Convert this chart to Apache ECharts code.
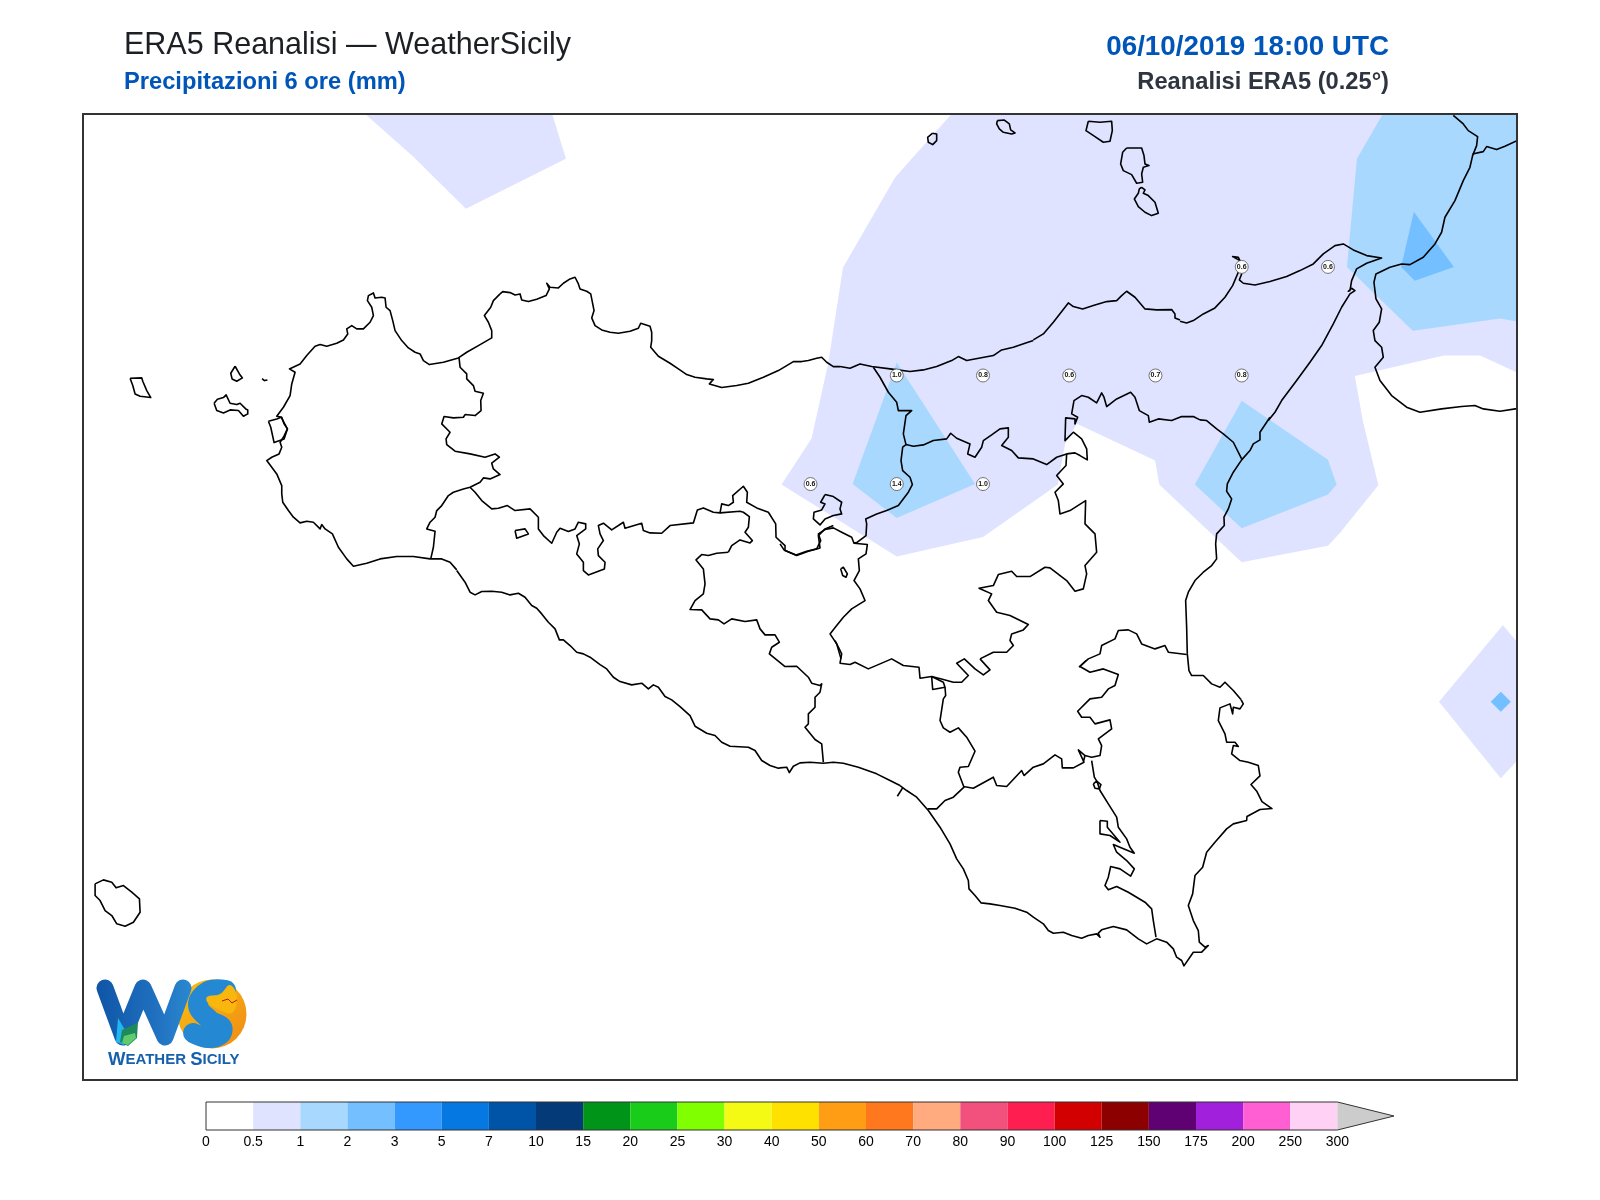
<!DOCTYPE html>
<html><head><meta charset="utf-8">
<style>html,body{margin:0;padding:0;background:#fff}#c{width:1600px;height:1200px}</style>
<script src="https://cdn.jsdelivr.net/npm/echarts@6/dist/echarts.min.js"></script>
</head><body><div id="c"></div>
<script>
// ---- map extent (degrees) ----
const lonMin = 11.891, lonMax = 16.048, latMin = 36.378, latMax = 38.602;
// digitising helper: outlines were digitised on 3x tiles; tile origin -> degrees
function tile(x0, y0, f) {
  const out = [];
  for (let i = 0; i < f.length; i += 2) {
    const x = x0 + f[i] / 3, y = y0 + f[i + 1] / 3;
    out.push([15.5 + (x - 1328) / 345, 38.25 - (y - 266.3) / 434.4]);
  }
  return out;
}
// ---- colour scale ----
const tickLabels = ['0','0.5','1','2','3','5','7','10','15','20','25','30','40','50','60','70','80','90','100','125','150','175','200','250','300'];
const bandColors = ['#FFFFFF','#DFE3FF','#A9D8FF','#73BFFF','#3399FF','#0578E1','#0054A8','#043A78','#009419','#1ACC1A','#7FFF00','#F5FA14','#FFE100','#FF9E14','#FF781E','#FFAA7F','#F2507D','#FF1E50','#D20000','#8C0000','#5F0073','#A020DC','#FF5FD2','#FFD2F5'];
// ---- precipitation grid values: [lon, lat, mm] ----
const gridValues = [[14.25,38,1.0],[14.5,38,0.8],[14.75,38,0.6],[15,38,0.7],[15.25,38,0.8],[15.25,38.25,0.6],[15.5,38.25,0.6],[14,37.75,0.6],[14.25,37.75,1.4],[14.5,37.75,1.0]];
// ---- filled contours: band index + ring in degrees ----
const contourNorth = [[14.409,38.602],[16.048,38.602],[16.048,38.007],[15.941,38.046],[15.836,38.046],[15.578,37.999],[15.601,37.896],[15.646,37.747],[15.535,37.638],[15.5,37.608],[15.25,37.57],[15.011,37.749],[14.999,37.804],[14.772,37.889],[14.738,37.843],[14.717,37.749],[14.5,37.628],[14.25,37.583],[13.916,37.749],[14.003,37.855],[14.051,38.027],[14.094,38.248],[14.245,38.456]];
const contourNW = [[12.709,38.602],[12.848,38.504],[13.001,38.384],[13.291,38.499],[13.251,38.602]];
const contourSE = [[16.007,37.425],[15.822,37.249],[16.001,37.073],[16.048,37.113],[16.048,37.387]];
const contourDiamond = [[16.001,37.272],[16.03,37.249],[16.001,37.226],[15.972,37.249]];
const contourNE = [[15.659,38.602],[16.048,38.602],[16.048,38.124],[15.999,38.131],[15.746,38.103],[15.555,38.25],[15.584,38.499]];
const contourNEcore = [[15.749,38.377],[15.865,38.25],[15.752,38.218],[15.712,38.25]];
const contourCentre = [[14.25,38.03],[14.477,37.75],[14.25,37.672],[14.122,37.75]];
const contourEast = [[15.25,37.942],[15.5,37.806],[15.525,37.749],[15.5,37.726],[15.25,37.648],[15.114,37.749]];
const contours = [[1,contourNorth],[1,contourNW],[1,contourSE],[3,contourDiamond],[2,contourNE],[3,contourNEcore],[2,contourCentre],[2,contourEast]];
// ---- coast ----
const coastWest = tile(80,250,[1130,958,1110,935,1085,925,1050,925,1000,918,950,918,900,925,860,938,820,947,800,925,775,890,757,850,735,835,725,822,720,835,700,815,680,812,660,817,640,800,625,780,608,755,605,730,605,705,590,670,575,650,560,630,575,620,597,610,605,590,600,575,610,560,622,535,612,520,605,500,590,497,610,470,630,435,635,400,645,365,628,355,660,340,680,315,705,287,720,282,740,287,770,278,790,268,803,250,800,235,815,225,830,235,850,235,870,215,880,195,875,170,862,150,865,135,880,127,885,142,905,140,915,142,918,170,930,180,938,210,945,240,965,270,985,292,1005,305,1020,310,1030,330,1048,342,1090,335,1135,322,1160,305,1195,285,1235,262,1235,240,1225,215,1213,195,1232,170,1240,150,1260,130]);
const coastNorthA = tile(420,260,[240,100,248,93,270,96,285,103,300,100,305,118,325,123,350,116,378,105,388,85,380,68,390,80,415,82,430,68,450,55,465,50,475,70,480,85,500,92,512,100,518,130,522,150,515,172,525,195,545,208,570,215,595,218,630,212,655,203,662,188,690,197,695,215,695,240,692,260,715,287,750,308,775,325,800,342,825,350,860,355,880,357,868,370,905,381,950,375,985,368,1030,350,1075,330,1120,303,1145,303,1165,300,1190,293,1205,290,1220,305,1240,318,1260,318]);
const coastNorthB = tile(780,340,[180,78,210,83,240,70,275,78,330,85,390,93,430,88,470,78,515,60,535,48,560,60,600,52,640,45,665,28,700,20,735,8,760,0]);
const coastNorthC = tile(880,100,[460,718,490,700,520,665,565,607,580,618,608,625,640,615,680,603,710,600,725,585,740,572,765,590,795,625,830,628,875,627,885,640,885,652,900,658]);
const coastNE = tile(1100,100,[240,662,260,667,280,660,310,640,345,622,375,590,398,555,415,515,420,480,415,470,398,468,420,480,425,520,418,538,430,548,465,553,510,543,560,528,600,510,640,490,670,460,705,435,730,430,760,448,800,465,845,472,800,488,770,505,755,540,750,570,745,572,755,563,765,570,750,580,725,620,700,670,665,735,630,785,590,840,545,900,525,935,505,960]);
const coastEast = tile(1040,400,[690,50,680,65,660,95,660,118,640,130,630,150,605,178,580,215,562,250,560,272,575,295,565,325,552,350,553,375,530,400,527,430,530,475,515,495,490,515,465,540,445,575,437,600,440,680,442,760,447,810,455,825,490,825,515,850,540,860,555,845,580,870,603,897]);
const coastSE = tile(900,660,[1023,117,1030,130,1020,145,1000,140,998,160,990,130,960,142,955,180,975,220,980,245,1005,245,1015,258,1000,255,995,280,1020,300,1045,305,1075,315,1080,346,1053,372,1071,393,1086,423,1116,444,1080,447,1041,468,1040,480,1000,490,980,505,945,545,920,575,908,620,885,645,878,700,865,735,880,780,895,810,898,845,915,860,925,855,905,875,880,875,852,916,845,900,830,890,820,865,800,845,770,835,740,850,715,835,680,808,640,798,605,808,595,818,600,830,590,820,565,825,545,833,515,825,490,815,460,818,445,810,430,790,400,770,380,755,345,743,300,735,270,730,243,727,225,705,207,685,205,660,190,625,170,595,150,550,120,500,85,450,50,410,20,390,0,375]);
const coastSouthA = tile(780,640,[360,435,330,420,290,400,235,380,190,368,160,365,130,368,90,365,60,367,40,377,28,396,20,380,0,382]);
const coastSouthB = tile(420,540,[1080,682,1075,683,1050,675,1025,660,1005,630,985,620,930,617,905,605,885,585,860,578,825,557,810,525,780,498,755,478,735,468,715,440,700,433,685,445,665,428,635,433,600,423,580,410,560,385,540,372,510,350,490,340,470,335,450,315,430,298,418,298,405,265,385,245,365,220,350,203,335,195,315,170,295,158,270,163,245,155,215,152,185,153,165,163,150,155,135,125,110,90]);
const coastTick = tile(780,640,[368,442,352,467]);
// ---- Calabria ----
const calabriaMain = tile(1100,100,[1060,44,1090,70,1105,90,1133,108,1130,135,1118,165,1110,200,1090,240,1065,300,1035,350,1025,395,1005,430,970,470,930,492,905,490,870,500,828,520,822,545,828,595,845,625,838,665,820,690,825,720,845,740,850,770,825,800,840,840,875,885,920,920,960,935,1025,925,1085,918,1125,915,1150,925,1200,932,1251,924]);
const calabriaUpper = tile(1100,100,[1118,160,1150,153,1160,138,1190,147,1215,137,1251,120]);
// ---- islands ----
const marettimo = tile(80,250,[150,383,185,382,188,392,200,420,212,441,180,437,165,430,158,405,150,383]);
const levanzo = tile(80,250,[465,347,478,370,487,382,470,392,456,385,452,368,465,347]);
const favignana = tile(80,250,[402,458,412,446,430,441,438,433,450,458,470,462,480,458,497,475,503,478,503,490,490,497,475,480,450,478,430,487,410,480,402,458]);
const formica = tile(80,250,[546,384,553,390,562,388]);
const stagnone = tile(80,250,[565,512,590,505,603,500,622,535,612,565,582,576,572,530,565,512]);
const pantelleria = tile(80,850,[45,100,70,88,95,95,108,112,130,105,155,125,178,145,180,185,160,215,135,227,110,220,95,195,75,180,60,150,45,135,45,100]);
const alicudi = tile(880,100,[157,98,170,100,170,120,158,132,145,125,143,110,157,98]);
const filicudi = tile(880,100,[352,60,372,58,388,70,392,88,405,97,395,100,370,95,358,85,350,70,352,60]);
const salina = tile(880,100,[625,62,660,65,695,62,697,90,690,122,670,125,645,108,618,90,625,62]);
const lipari = tile(880,100,[740,142,785,142,792,165,795,190,807,195,790,200,785,220,788,245,770,248,755,222,730,210,722,190,728,155,740,142]);
const vulcano = tile(880,100,[785,260,795,268,790,278,805,285,825,305,835,338,815,345,795,335,775,318,763,295,775,278,778,265,785,260]);
// ---- province borders and lakes ----
const provA = tile(420,260,[117,292,120,320,140,340,140,355,160,375,165,392,190,398,182,420,183,450,165,465,135,462,130,470,100,472,72,468,65,490,90,515,78,535,80,552,105,572,150,580,195,590,225,580,238,590,215,608,220,625,240,642,210,655,190,652,180,665,150,680,130,685,100,695,85,705,65,735,50,750,45,770,30,785,20,805,45,812,40,860,32,895]);
const provB = tile(420,260,[150,680,165,695,185,720,215,745,235,743,262,735,285,750,330,745,355,770,355,805,370,825,395,848,410,815,420,803,445,813,465,805,475,785,497,790,497,805,470,825,478,850,470,880,490,905,490,930,505,943,553,925,555,905,535,885,533,865,550,840,540,820,535,795,550,788,575,808,610,785,615,803,665,788,670,810,690,817,725,818,750,795,820,787,832,748,850,742,880,755,900,757,905,730,925,735,940,725,938,705,970,677,982,695,980,725,1010,742,1045,755,1067,790,1068,830,1095,855,1095,870,1130,885,1165,872,1200,862,1195,825,1215,805,1240,795]);
const provBbranch = tile(420,260,[900,757,960,752,970,755,988,768,985,800,975,815,997,840,990,847,960,838,935,855,925,875]);
const provC = tile(420,540,[925,35,890,38,865,45,845,42,828,58,850,85,855,130,850,160,825,180,810,207,845,208,870,235,895,238,912,250,935,235,975,243,1010,238,1020,265,1035,283,1065,283,1078,305,1055,320,1048,340,1095,378,1130,377,1165,410,1175,428,1200,435,1205,430,1200,455,1185,470,1185,500,1165,520,1165,550,1155,560,1185,597,1205,610,1210,665]);
const provD = tile(780,340,[0,610,12,628,48,643,80,632,110,625,122,600,115,580,135,567,160,562,185,575,215,590,222,608,232,605,258,585,260,550,257,535,290,520,320,510,355,495,385,455,397,432,390,410,368,390,363,360,368,320,378,312,370,280,378,225,395,210,355,210,350,185,325,155,300,110,280,80]);
const provE = tile(780,340,[378,312,400,317,430,313,460,300,500,295,512,278,530,293,570,310,563,340,585,350,605,320,610,300,635,283,660,265,685,262,685,290,665,315,695,330,715,352,760,355,800,372,830,350,860,340,885,337,900,345,922,358,920,325,905,295,880,275,855,300,857,232,885,235,885,250,893,230,875,220,882,180,905,165,925,170,950,187,965,157,972,170,980,198,1010,175,1052,155,1065,170,1078,210,1105,225,1108,245,1135,235,1175,240,1205,228,1240,228,1260,238]);
const provEend = tile(1040,400,[480,58,500,60,530,85,550,100,580,125,605,175]);
const provF = tile(780,340,[860,340,858,375,830,405,850,430,825,455,835,480,840,520,870,510,917,480,915,550,945,580,950,635,915,675,920,700,910,745,885,752,860,720,810,682,795,680,750,708,710,708,695,692,655,702,640,735,597,743,635,760,625,780,650,815,690,825,745,852,730,868,695,880,690,900,700,915,680,935,640,935,600,955]);
const provG = tile(780,640,[600,55,630,88,610,103,585,85,553,55,530,68,565,105,545,125,520,125,490,117,455,108,420,113,417,80,370,75,335,55,300,70,265,85,225,65,210,72,180,68,185,40,175,20,165,0]);
const provH = tile(780,340,[222,608,262,612,258,640,235,655,238,690,222,720,240,745,255,780,215,805,190,830,170,855,150,880,170,910,183,955]);
const provI = tile(780,640,[455,108,458,147,495,140,490,125,455,108]);
const provJ = tile(780,640,[495,140,497,165,490,175,480,240,490,262,510,275,535,262,560,290,585,332,565,378,540,380,535,395,552,440,520,470,495,480,470,505,443,505]);
const provK = tile(900,660,[190,378,220,383,280,350,290,375,320,378,365,330,372,345,400,320,430,310,465,283,485,295,487,322,520,322,552,305,535,268,555,285,550,305]);
const provL = tile(900,660,[555,285,575,290,600,285,605,255,595,235,635,205,630,178,585,190,570,170,545,170,533,152,570,115,605,110,625,85,645,75,655,42,610,25,570,35,540,18,558,0]);
const provM = tile(1040,400,[117,800,145,775,180,760,185,735,225,715,235,690,265,688,290,700,305,730,345,745,375,735,385,755,440,762]);
const provN = tile(900,660,[575,300,583,350,592,365,600,390,625,430,650,470,655,500,680,535,690,560,703,578,640,552,650,575,680,600,703,625,692,647,660,625,632,618,625,650,615,675,625,688,650,678,685,695,710,710,735,725,755,745,760,780,768,830]);
const ringSmall = tile(900,660,[580,370,590,362,603,372,598,385,585,383,580,370]);
const lagoon = tile(900,660,[600,480,622,482,622,500,660,545,630,525,600,520,600,480]);
const lakeLeft = tile(420,260,[285,810,315,805,325,820,290,833,285,810]);
const lakePozzillo = tile(780,340,[135,462,160,468,185,485,180,505,185,520,160,525,135,535,120,553,100,535,102,515,125,508,135,490,122,485,135,462]);
const lakeOval = tile(780,340,[182,685,190,680,202,700,198,710,188,705,182,685]);
const outlines = [coastWest,coastNorthA,coastNorthB,coastNorthC,coastNE,coastEast,coastSE,coastSouthA,coastSouthB,coastTick,calabriaMain,calabriaUpper,marettimo,levanzo,favignana,formica,stagnone,pantelleria,alicudi,filicudi,salina,lipari,vulcano,provA,provB,provBbranch,provC,provD,provE,provEend,provF,provG,provH,provI,provJ,provK,provL,provM,provN,ringSmall,lagoon,lakeLeft,lakePozzillo,lakeOval];

const font = '"Liberation Sans", Arial, sans-serif';
const option = {
  animation: false,
  backgroundColor: '#fff',
  title: [
    {text: 'ERA5 Reanalisi — WeatherSicily', left: 119, top: 25, textStyle: {fontFamily: font, fontSize: 30.5, fontWeight: 'normal', color: '#1c1f24'}},
    {text: 'Precipitazioni 6 ore (mm)', left: 119, top: 65, textStyle: {fontFamily: font, fontSize: 23.7, fontWeight: 'bold', color: '#0055B8'}},
    {text: '06/10/2019 18:00 UTC', right: 206, top: 28, textStyle: {fontFamily: font, fontSize: 27.8, fontWeight: 'bold', color: '#0055B8'}},
    {text: 'Reanalisi ERA5 (0.25°)', right: 206, top: 65, textStyle: {fontFamily: font, fontSize: 23.7, fontWeight: 'bold', color: '#2f3540'}}
  ],
  grid: [
    {left: 83, top: 114, width: 1434, height: 966},
    {left: 206, top: 1102, width: 1188, height: 28}
  ],
  xAxis: [
    {gridIndex: 0, type: 'value', min: lonMin, max: lonMax, show: false},
    {gridIndex: 1, type: 'value', min: 0, max: 25.2, interval: 1, position: 'bottom',
     splitLine: {show: false}, axisLine: {show: false}, axisTick: {show: false},
     axisLabel: {margin: 5, fontFamily: font, fontSize: 14, color: '#000', showMaxLabel: false, formatter: v => tickLabels[v] === undefined ? '' : tickLabels[v]}}
  ],
  yAxis: [
    {gridIndex: 0, type: 'value', min: latMin, max: latMax, show: false},
    {gridIndex: 1, type: 'value', min: 0, max: 1, show: false}
  ],
  series: [
    {type: 'custom', name: 'contours', xAxisIndex: 0, yAxisIndex: 0, silent: true, clip: true, z: 2,
     data: contours.map((c, i) => [c[1][0][0], c[1][0][1], i]),
     renderItem: (p, api) => {
       const c = contours[p.dataIndex];
       return {type: 'polygon', shape: {points: c[1].map(q => api.coord(q))}, style: {fill: bandColors[c[0]], stroke: null}};
     }},
    {type: 'custom', name: 'outlines', xAxisIndex: 0, yAxisIndex: 0, silent: true, clip: true, z: 3,
     data: outlines.map((o, i) => [o[0][0], o[0][1], i]),
     renderItem: (p, api) => ({type: 'polyline', shape: {points: outlines[p.dataIndex].map(q => api.coord(q))},
        style: {fill: null, stroke: '#000', lineWidth: 1.6, lineJoin: 'round'}})},
    {type: 'scatter', name: 'grid values', xAxisIndex: 0, yAxisIndex: 0, silent: true, z: 4, symbol: 'circle', symbolSize: 13,
     itemStyle: {color: '#fff', borderColor: '#555', borderWidth: 0.8, opacity: 1},
     label: {show: true, position: 'inside', fontFamily: font, fontSize: 7, fontWeight: 'bold', color: '#111', formatter: p => p.value[2].toFixed(1)},
     data: gridValues},
    {type: 'custom', name: 'frame', xAxisIndex: 0, yAxisIndex: 0, silent: true, clip: false, z: 5,
     data: [[lonMin, latMin]],
     renderItem: (p, api) => ({type: 'polygon', shape: {points: [[lonMin,latMin],[lonMax,latMin],[lonMax,latMax],[lonMin,latMax]].map(q => api.coord(q))},
        style: {fill: null, stroke: '#333', lineWidth: 2}})},
    {type: 'custom', name: 'colorbar', xAxisIndex: 1, yAxisIndex: 1, silent: true, clip: false, z: 2,
     data: bandColors.map((c, i) => [i, 0]),
     renderItem: (p, api) => {
       const i = p.dataIndex, a = api.coord([i, 1]), b = api.coord([i + 1, 0]);
       return {type: 'rect', shape: {x: a[0], y: a[1], width: b[0] - a[0], height: b[1] - a[1]}, style: {fill: bandColors[i]}};
     }},
    {type: 'custom', name: 'colorbar over', xAxisIndex: 1, yAxisIndex: 1, silent: true, clip: false, z: 3,
     data: [[24, 0]],
     renderItem: (p, api) => ({type: 'group', children: [
       {type: 'polygon', shape: {points: [[24,1],[25.2,0.5],[24,0]].map(q => api.coord(q))}, style: {fill: '#CCCCCC'}},
       {type: 'polygon', shape: {points: [[0,1],[24,1],[25.2,0.5],[24,0],[0,0]].map(q => api.coord(q))}, style: {fill: null, stroke: '#333', lineWidth: 1}}
     ]})}
  ],
  graphic: {elements: [
    {type: 'circle', z: 10, shape: {cx: 212, cy: 1014, r: 34.5},
     style: {fill: {type: 'linear', x: 0, y: 0, x2: 1, y2: 1, colorStops: [{offset: 0, color: '#F9C012'}, {offset: 1, color: '#F08A14'}]}}},
    {type: 'polyline', z: 12, shape: {points: [[226,990],[208,991],[198,1005],[210,1020],[222,1027],[220,1035],[208,1038],[193,1033]], smooth: 0.4},
     style: {fill: null, stroke: '#2488D2', lineWidth: 20, lineCap: 'round', lineJoin: 'round'}},
    {type: 'polygon', z: 13, shape: {points: [[207,997],[220,994],[230,985],[237,997],[232,1013],[220,1010],[208,1003]], smooth: 0.4},
     style: {fill: '#F7B70C', stroke: null}},
    {type: 'polyline', z: 12, shape: {points: [[105,988],[123,1037],[143,988],[165,1037],[183,988]]},
     style: {fill: null, lineCap: 'round', lineJoin: 'round', lineWidth: 17,
       stroke: {type: 'linear', x: 0, y: 0, x2: 1, y2: 0, colorStops: [{offset: 0, color: '#0F55A6'}, {offset: 0.6, color: '#1F6FBE'}, {offset: 1, color: '#2A88D0'}]}}},
    {type: 'polygon', z: 13, shape: {points: [[118,1018],[128,1035],[124,1045],[116,1042]]}, style: {fill: '#22B6F0'}},
    {type: 'polygon', z: 14, shape: {points: [[137,1023],[138,1022],[137,1038],[128,1046],[120,1042],[122,1030]]}, style: {fill: '#1E8A5C'}},
    {type: 'polygon', z: 15, shape: {points: [[135,1033],[136,1038],[128,1045],[122,1043],[124,1036]]}, style: {fill: '#5FCB6E'}},
    {type: 'polyline', z: 14, shape: {points: [[222,1001],[228,999],[232,1003],[237,1000]]}, style: {fill: null, stroke: '#C01818', lineWidth: 1}},
    {type: 'text', z: 16, left: 108, top: 1050, style: {rich: {a: {fontFamily: font, fontSize: 18.5, fontWeight: 'bold', fill: '#1760AE'}, b: {fontFamily: font, fontSize: 15, fontWeight: 'bold', fill: '#1760AE'}},
       text: '{a|W}{b|EATHER }{a|S}{b|ICILY}'}}
  ]}
};
const chart = echarts.init(document.getElementById('c'), null, {renderer: 'canvas', width: 1600, height: 1200});
chart.setOption(option);
</script></body></html>
